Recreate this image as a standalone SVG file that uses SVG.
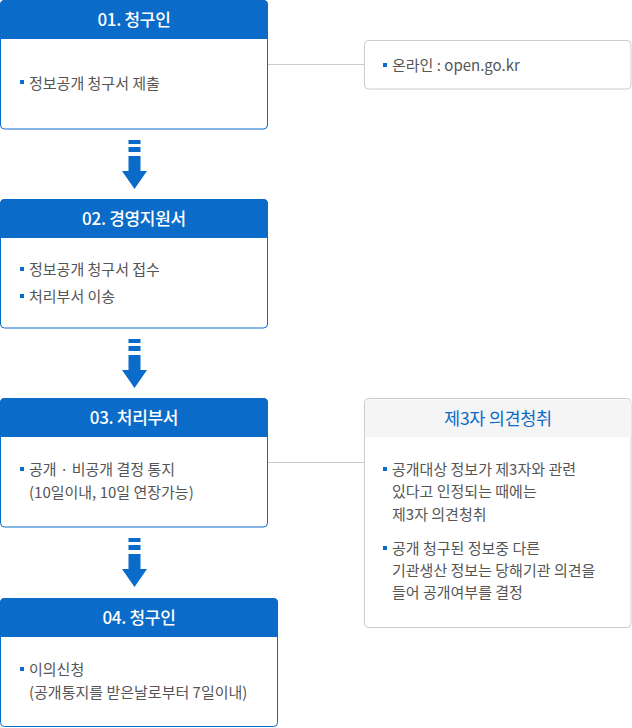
<svg xmlns="http://www.w3.org/2000/svg" width="632" height="728" viewBox="0 0 632 728">
<style>
.box{fill:#fff;stroke:#0a6bc8;stroke-width:1}
.hdr{fill:#0a6bc8}
.ttl{font-family:"Noto Sans CJK KR","Noto Sans",sans-serif;font-size:17px;font-weight:500;fill:#fff;text-anchor:middle;letter-spacing:-0.3px}
.txt{font-family:"Noto Sans CJK KR","Noto Sans",sans-serif;font-size:15px;fill:#555;letter-spacing:0px}
.bul{fill:#0a6bc8}
.side{fill:#fff;stroke:#ccc;stroke-width:1}
.conn{stroke:#ccc;stroke-width:1;fill:none}
.arr{fill:#0a6bc8}
.sttl{font-family:"Noto Sans CJK KR","Noto Sans",sans-serif;font-size:17.5px;fill:#0a6bc8;text-anchor:middle;letter-spacing:-0.3px}
</style>
<defs>
<g id="arrow">
<rect x="128.5" y="0" width="12" height="4"/>
<rect x="128.5" y="7" width="12" height="5"/>
<polygon points="128.5,16 140.5,16 140.5,31 147,31 134.5,49 122,31 128.5,31"/>
</g>
</defs>
<g id="connectors">
<line class="conn" x1="267.5" y1="64.5" x2="364.5" y2="64.5"/>
<line class="conn" x1="267.5" y1="462.5" x2="364.5" y2="462.5"/>
<use href="#arrow" class="arr" y="140"/>
<use href="#arrow" class="arr" y="339"/>
<use href="#arrow" class="arr" y="538"/>
</g>
<g id="node1">
<rect class="box" x="0.5" y="0.5" width="267" height="128.5" rx="4"/>
<path class="hdr" d="M0,4.5 a4.5,4.5 0 0 1 4.5,-4.5 h259 a4.5,4.5 0 0 1 4.5,4.5 v34.5 h-268z"/>
<text class="ttl" x="134" y="26">01. 청구인</text>
<rect class="bul" x="20" y="80" width="4" height="4"/>
<text class="txt" x="29" y="89">정보공개 청구서 제출</text>
</g>
<g id="node2">
<rect class="box" x="0.5" y="199.5" width="267" height="128.5" rx="4"/>
<path class="hdr" d="M0,203.5 a4.5,4.5 0 0 1 4.5,-4.5 h259 a4.5,4.5 0 0 1 4.5,4.5 v34.5 h-268z"/>
<text class="ttl" x="134" y="225">02. 경영지원서</text>
<rect class="bul" x="20" y="267" width="4" height="4"/>
<text class="txt" x="29" y="275">정보공개 청구서 접수</text>
<rect class="bul" x="20" y="294" width="4" height="4"/>
<text class="txt" x="29" y="302">처리부서 이송</text>
</g>
<g id="node3">
<rect class="box" x="0.5" y="398.5" width="267" height="128.5" rx="4"/>
<path class="hdr" d="M0,402.5 a4.5,4.5 0 0 1 4.5,-4.5 h259 a4.5,4.5 0 0 1 4.5,4.5 v34.5 h-268z"/>
<text class="ttl" x="134" y="424">03. 처리부서</text>
<rect class="bul" x="20" y="467" width="4" height="4"/>
<text class="txt" x="29" y="475">공개 · 비공개 결정 통지</text>
<text class="txt" x="29" y="498">(10일이내, 10일 연장가능)</text>
</g>
<g id="node4">
<rect class="box" x="0.5" y="598.5" width="277" height="128" rx="4"/>
<path class="hdr" d="M0,602.5 a4.5,4.5 0 0 1 4.5,-4.5 h269 a4.5,4.5 0 0 1 4.5,4.5 v34.5 h-278z"/>
<text class="ttl" x="139" y="624">04. 청구인</text>
<rect class="bul" x="20" y="667" width="4" height="4"/>
<text class="txt" x="29" y="675">이의신청</text>
<text class="txt" x="29" y="698">(공개통지를 받은날로부터 7일이내)</text>
</g>
<g id="side1">
<rect class="side" x="364.5" y="40.5" width="266.5" height="48.5" rx="4"/>
<rect class="bul" x="383" y="63" width="4" height="4"/>
<text class="txt" x="392" y="71">온라인 : open.go.kr</text>
</g>
<g id="side2">
<rect class="side" x="364.5" y="398.5" width="266.5" height="229" rx="4"/>
<path d="M365,437 v-34 a3.5,3.5 0 0 1 3.5,-3.5 h259 a3.5,3.5 0 0 1 3.5,3.5 v34z" fill="#f5f5f5"/>
<text class="sttl" x="498" y="425">제3자 의견청취</text>
<rect class="bul" x="383" y="467" width="4" height="4"/>
<text class="txt" x="392" y="475">공개대상 정보가 제3자와 관련</text>
<text class="txt" x="392" y="497">있다고 인정되는 때에는</text>
<text class="txt" x="392" y="520">제3자 의견청취</text>
<rect class="bul" x="383" y="546" width="4" height="4"/>
<text class="txt" x="392" y="554">공개 청구된 정보중 다른</text>
<text class="txt" x="392" y="576">기관생산 정보는 당해기관 의견을</text>
<text class="txt" x="392" y="598">들어 공개여부를 결정</text>
</g>
</svg>
